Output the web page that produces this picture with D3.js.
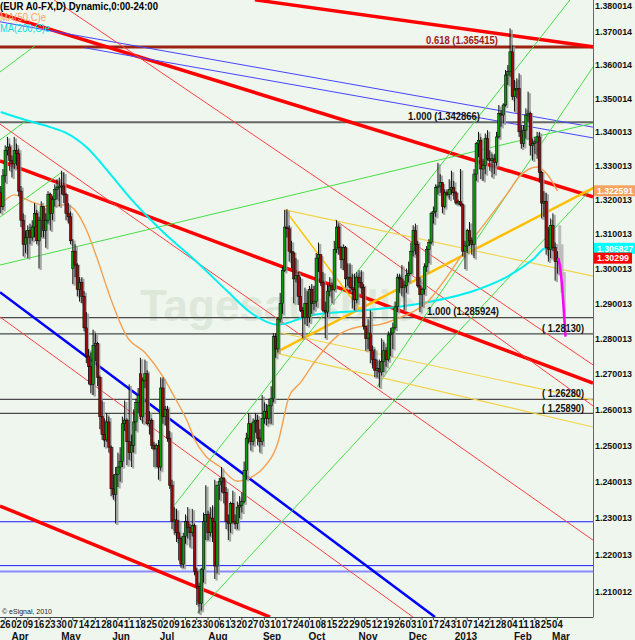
<!DOCTYPE html>
<html><head><meta charset="utf-8">
<script src="https://cdn.jsdelivr.net/npm/d3@7"></script>
<style>body{margin:0;background:#eff6ee;}svg{display:block;}</style>
</head><body>
<svg id="c" width="635" height="640"></svg>
<script>
// ---------- DATA (EUR A0-FX, daily) ----------
const firstIndex = -2; // trading-day index of first bar (Mar 22, 2012); index 0 = Mon Mar 26, 2012
const opens = [1.3220,1.3180,
1.3270,1.3345,1.3355,1.3315,1.3305, 1.3345,1.3335,1.3225,1.3140,1.3070, 1.3090,1.3110,1.3090,1.3120,1.3160, 1.3080,1.3140,1.3180,1.3110,1.3140,
1.3215,1.3160,1.3200,1.3230,1.3235, 1.3240,1.3240,1.3215,1.3160,1.3150, 1.3000,1.3050,1.3010,1.2940,1.2960, 1.2920,1.2830,1.2750,1.2720,1.2670,
1.2780,1.2785,1.2690,1.2580,1.2530, 1.2515,1.2565,1.2495,1.2380,1.2365, 1.2420,1.2440,1.2455,1.2560,1.2570, 1.2510,1.2480,1.2500,1.2565,1.2620,
1.2700,1.2580,1.2680,1.2700,1.2560, 1.2570,1.2500,1.2490,1.2500,1.2440, 1.2660,1.2580,1.2600,1.2520,1.2390, 1.2290,1.2295,1.2260,1.2245,1.2175,
1.2250,1.2290,1.2275,1.2260,1.2280, 1.2155,1.2115,1.2070,1.2160,1.2290, 1.2310,1.2260,1.2300,1.2290,1.2170, 1.2390,1.2400,1.2410,1.2370,1.2290,
1.2285,1.2340,1.2290,1.2285,1.2330, 1.2335,1.2345,1.2430,1.2520,1.2560, 1.2510,1.2565,1.2570,1.2520,1.2510, 1.2575,1.2595,1.2575,1.2610,1.2630,
1.2805,1.2770,1.2855,1.2900,1.2995, 1.3120,1.3115,1.3050,1.3045,1.2970, 1.2980,1.2920,1.2880,1.2860,1.2900, 1.2860,1.2940,1.2900,1.2905,1.3030,
1.3040,1.2960,1.2880,1.2875,1.2935, 1.2950,1.2940,1.3055,1.3120,1.3060, 1.3025,1.3060,1.2970,1.2975,1.2945, 1.2940,1.2910,1.2975,1.2960,1.2945,
1.2835,1.2800,1.2815,1.2765,1.2740, 1.2710,1.2715,1.2705,1.2735,1.2765, 1.2740,1.2810,1.2815,1.2830,1.2890, 1.2975,1.2970,1.2945,1.2950,1.2980,
1.2985,1.3050,1.3110,1.3070,1.2950, 1.2925,1.2940,1.3005,1.3055,1.3075, 1.3160,1.3165,1.3235,1.3240,1.3250, 1.3180,1.3220,1.3215,1.3230,1.3235,
1.3220,1.3190,1.3195,1.3185,1.3050, 1.3065,1.3110,1.3080,1.3070,1.3275, 1.3365,1.3375,1.3290,1.3300,1.3380, 1.3320,1.3315,1.3320,1.3310,1.3385,
1.3455,1.3450,1.3480,1.3570,1.3580, 1.3640,1.3505,1.3525,1.3530,1.3400, 1.3365,1.3405,1.3450,1.3455,1.3360, 1.3365,1.3370,1.3385,1.3280,1.3190,
1.3195,1.3060,1.3055,1.3125,1.3060, 1.3020];
const highs = [1.3240,1.3290,
1.3360,1.3385,1.3365,1.3330,1.3385, 1.3365,1.3350,1.3240,1.3160,1.3110, 1.3125,1.3130,1.3140,1.3190,1.3170, 1.3150,1.3195,1.3180,1.3160,1.3225,
1.3220,1.3210,1.3245,1.3260,1.3265, 1.3285,1.3280,1.3220,1.3190,1.3165, 1.3085,1.3070,1.3015,1.2975,1.2975, 1.2935,1.2875,1.2770,1.2760,1.2825,
1.2815,1.2790,1.2695,1.2625,1.2575, 1.2590,1.2580,1.2500,1.2420,1.2440, 1.2480,1.2495,1.2580,1.2625,1.2575, 1.2670,1.2530,1.2600,1.2630,1.2660,
1.2745,1.2690,1.2740,1.2710,1.2595, 1.2575,1.2510,1.2505,1.2515,1.2690, 1.2690,1.2610,1.2610,1.2540,1.2405, 1.2330,1.2325,1.2295,1.2250,1.2260,
1.2310,1.2330,1.2285,1.2325,1.2285, 1.2165,1.2125,1.2165,1.2315,1.2390, 1.2320,1.2330,1.2335,1.2405,1.2390, 1.2410,1.2440,1.2410,1.2385,1.2310,
1.2345,1.2375,1.2310,1.2345,1.2360, 1.2370,1.2455,1.2535,1.2590,1.2560, 1.2575,1.2590,1.2585,1.2545,1.2640, 1.2620,1.2615,1.2630,1.2665,1.2815,
1.2815,1.2860,1.2930,1.3005,1.3170, 1.3172,1.3125,1.3080,1.3050,1.3030, 1.2990,1.2975,1.2890,1.2945,1.2935, 1.2950,1.2955,1.2950,1.3045,1.3075,
1.3040,1.2990,1.2905,1.2955,1.2975, 1.2960,1.3080,1.3140,1.3130,1.3065, 1.3070,1.3065,1.3015,1.3015,1.2985, 1.2985,1.2990,1.2995,1.2995,1.2955,
1.2835,1.2855,1.2880,1.2780,1.2770, 1.2740,1.2740,1.2800,1.2790,1.2775, 1.2820,1.2830,1.2845,1.2905,1.2985, 1.2985,1.3010,1.2965,1.3000,1.3020,
1.3075,1.3125,1.3130,1.3080,1.2975, 1.2945,1.3015,1.3065,1.3085,1.3165, 1.3180,1.3245,1.3308,1.3275,1.3250, 1.3230,1.3230,1.3260,1.3285,1.3255,
1.3225,1.3200,1.3290,1.3190,1.3080, 1.3115,1.3135,1.3090,1.3290,1.3370, 1.3400,1.3385,1.3320,1.3395,1.3405, 1.3345,1.3335,1.3335,1.3400,1.3480,
1.3465,1.3485,1.3585,1.3600,1.3711, 1.3660,1.3555,1.3560,1.3575,1.3420, 1.3420,1.3470,1.3520,1.3460,1.3380, 1.3385,1.3400,1.3400,1.3285,1.3225,
1.3220,1.3120,1.3145,1.3160,1.3075, 1.3050];
const lows = [1.3160,1.3170,
1.3250,1.3330,1.3285,1.3265,1.3290, 1.3300,1.3210,1.3120,1.3035,1.3045, 1.3030,1.3070,1.3080,1.3090,1.3070, 1.3000,1.3090,1.3090,1.3060,1.3130,
1.3110,1.3140,1.3180,1.3200,1.3180, 1.3215,1.3190,1.3140,1.3130,1.3070, 1.2955,1.2975,1.2920,1.2905,1.2900, 1.2820,1.2730,1.2670,1.2645,1.2640,
1.2735,1.2665,1.2545,1.2515,1.2495, 1.2510,1.2480,1.2360,1.2350,1.2285, 1.2385,1.2400,1.2440,1.2540,1.2445, 1.2460,1.2440,1.2480,1.2540,1.2590,
1.2570,1.2560,1.2660,1.2555,1.2530, 1.2490,1.2440,1.2440,1.2405,1.2430, 1.2560,1.2555,1.2510,1.2380,1.2270, 1.2255,1.2235,1.2185,1.2165,1.2165,
1.2230,1.2245,1.2220,1.2250,1.2145, 1.2065,1.2042,1.2050,1.2125,1.2240, 1.2240,1.2250,1.2235,1.2135,1.2150, 1.2350,1.2370,1.2340,1.2270,1.2240,
1.2260,1.2285,1.2270,1.2270,1.2300, 1.2315,1.2340,1.2405,1.2505,1.2485, 1.2500,1.2535,1.2500,1.2480,1.2500, 1.2560,1.2555,1.2560,1.2560,1.2620,
1.2745,1.2760,1.2845,1.2870,1.2990, 1.3090,1.3020,1.3000,1.2900,1.2960, 1.2895,1.2875,1.2800,1.2840,1.2835, 1.2845,1.2870,1.2880,1.2890,1.2990,
1.2950,1.2875,1.2800,1.2860,1.2920, 1.2900,1.2935,1.3045,1.3040,1.3000, 1.2995,1.2945,1.2950,1.2935,1.2885, 1.2880,1.2900,1.2945,1.2925,1.2825,
1.2765,1.2770,1.2730,1.2715,1.2690, 1.2690,1.2661,1.2695,1.2705,1.2720, 1.2735,1.2750,1.2770,1.2825,1.2875, 1.2930,1.2920,1.2880,1.2930,1.2960,
1.2985,1.3035,1.3040,1.2945,1.2875, 1.2890,1.2925,1.2990,1.3015,1.3070, 1.3130,1.3150,1.3215,1.3220,1.3160, 1.3175,1.3210,1.3200,1.3215,1.3200,
1.3185,1.3185,1.3180,1.3035,1.2998, 1.3045,1.3065,1.3040,1.3030,1.3255, 1.3325,1.3260,1.3255,1.3275,1.3315, 1.3285,1.3265,1.3275,1.3300,1.3380,
1.3415,1.3425,1.3475,1.3540,1.3565, 1.3495,1.3460,1.3500,1.3385,1.3350, 1.3355,1.3380,1.3430,1.3330,1.3315, 1.3335,1.3320,1.3250,1.3145,1.3150,
1.3040,1.3020,1.3030,1.3050,1.2965, 1.2985];
const closes = [1.3180,1.3270,
1.3345,1.3355,1.3315,1.3305,1.3345, 1.3335,1.3225,1.3140,1.3070,1.3090, 1.3110,1.3090,1.3120,1.3160,1.3080, 1.3140,1.3180,1.3110,1.3140,1.3215,
1.3160,1.3200,1.3230,1.3235,1.3240, 1.3240,1.3215,1.3160,1.3150,1.3080, 1.3050,1.3010,1.2940,1.2960,1.2920, 1.2830,1.2750,1.2720,1.2670,1.2780,
1.2785,1.2690,1.2580,1.2530,1.2515, 1.2565,1.2495,1.2380,1.2365,1.2420, 1.2440,1.2455,1.2560,1.2570,1.2510, 1.2480,1.2500,1.2565,1.2620,1.2640,
1.2580,1.2680,1.2700,1.2560,1.2570, 1.2500,1.2490,1.2500,1.2440,1.2660, 1.2580,1.2600,1.2520,1.2390,1.2290, 1.2295,1.2260,1.2245,1.2175,1.2250,
1.2290,1.2275,1.2260,1.2280,1.2155, 1.2115,1.2070,1.2160,1.2290,1.2310, 1.2260,1.2300,1.2290,1.2170,1.2390, 1.2400,1.2410,1.2370,1.2290,1.2285,
1.2340,1.2290,1.2285,1.2330,1.2335, 1.2345,1.2430,1.2520,1.2560,1.2510, 1.2565,1.2570,1.2520,1.2510,1.2575, 1.2595,1.2575,1.2610,1.2630,1.2805,
1.2770,1.2855,1.2900,1.2995,1.3120, 1.3115,1.3050,1.3045,1.2970,1.2980, 1.2920,1.2880,1.2860,1.2900,1.2860, 1.2940,1.2900,1.2905,1.3030,1.3040,
1.2960,1.2880,1.2875,1.2935,1.2950, 1.2940,1.3055,1.3120,1.3060,1.3025, 1.3060,1.2970,1.2975,1.2945,1.2940, 1.2910,1.2975,1.2960,1.2945,1.2835,
1.2800,1.2815,1.2765,1.2740,1.2710, 1.2715,1.2705,1.2735,1.2765,1.2740, 1.2810,1.2815,1.2830,1.2890,1.2975, 1.2970,1.2945,1.2950,1.2980,1.2985,
1.3050,1.3110,1.3070,1.2950,1.2925, 1.2940,1.3005,1.3055,1.3075,1.3160, 1.3165,1.3235,1.3240,1.3250,1.3180, 1.3220,1.3215,1.3230,1.3235,1.3220,
1.3190,1.3195,1.3185,1.3050,1.3065, 1.3110,1.3080,1.3070,1.3275,1.3365, 1.3375,1.3290,1.3300,1.3380,1.3320, 1.3315,1.3320,1.3310,1.3385,1.3455,
1.3450,1.3480,1.3570,1.3580,1.3640, 1.3505,1.3525,1.3530,1.3400,1.3365, 1.3405,1.3450,1.3455,1.3360,1.3365, 1.3370,1.3385,1.3280,1.3190,1.3195,
1.3060,1.3055,1.3125,1.3060,1.3020, 1.3030];

// moving averages, sampled along the curves (trading-day index, price)
const ma50Index  = [-2,4,12,20,27,32,36,41,45,47,54,62,70,75,81,84,89,95,103,110,114,121,126,131,138,148,157,166,175,181,187,196,205,214,223,228,236,240,245];
const ma50Values = [1.3185,1.3214,1.3193,1.3179,1.3185,1.3161,1.3112,1.3025,1.2947,1.2910,1.2805,1.2760,1.2692,1.2636,1.2564,1.2517,1.2470,1.2442,1.2401,1.2415,1.2434,1.2508,1.2636,1.2675,1.2740,1.2810,1.2833,1.2839,1.2859,1.2876,1.2902,1.2976,1.3062,1.3141,1.3220,1.3267,1.3296,1.3278,1.322591];
const ma200Index  = [-2,9,20,27,36,47,55,69,86,99,109,121,135,157,181,209,220,234,240,245];
const ma200Values = [1.3459,1.3435,1.3414,1.3397,1.3355,1.3272,1.3208,1.3112,1.3013,1.2932,1.2873,1.2839,1.2865,1.2879,1.2896,1.2938,1.2967,1.3025,1.3059,1.305827];

// dynamic projection after the last bar
const forecastIndex = [246,247,248];
const forecastHigh  = [1.3125,1.3070,1.2990];
const forecastLow   = [1.3010,1.2930,1.2860];
const projIndex  = [245.4,246.2,247.0,247.8,248.6];
const projValues = [1.3030,1.3005,1.2955,1.2885,1.2805];

// trend lines: [kind, index1, price1, index2, price2]
const trendLines = [
  ['thickRed', 110.8,1.3798, 260.8,1.3655],
  ['thickRed', -2.31,1.3755, 260.8,1.3208],
  ['thickRed', -2.31,1.3314, 260.8,1.2674],
  ['thickRed', -2.31,1.2333, 117.5,1.2033],
  ['thickBlue',-2.31,1.2932, 190.7,1.2033],
  ['thinBlue', -2.31,1.3731, 260.8,1.3414],
  ['thinBlue', 35.4,1.3652, 260.8,1.3382],
  ['thinRed', 21.65,1.3798, 260.8,1.2725],
  ['thinRed', -2.31,1.3423, 260.8,1.2240],
  ['thinRed', -2.31,1.2861, 180.9,1.2033],
  ['thinRed', 146.3,1.3141, 260.8,1.2610],
  ['green', 85.1,1.2044, 260.8,1.3237],
  ['green', 74.4,1.2330, 250.6,1.3798],
  ['green', 165.0,1.2663, 260.8,1.3594],
  ['green', -2.31,1.3010, 260.8,1.3426],
  ['green', -2.31,1.3579, 13.2,1.3658],
  ['green', -2.31,1.3376, 9.7,1.3435],
  ['green', -2.31,1.3149, 25.2,1.3281],
  ['yellow', 124.1,1.3170, 260.8,1.2978],
  ['goldThin', 124.1,1.3170, 158.3,1.2875],
  ['gold', 119.7,1.2759, 260.8,1.3234],
  ['yellow', 120.6,1.2818, 260.8,1.2626],
  ['yellow', 119.7,1.2759, 260.8,1.2551]
];

// horizontal levels
const levelValues = [1.365415,1.342866,1.285924,1.28130,1.26280,1.25890,1.2290,1.2171,1.2155];
const levelKinds  = ['fib','grey2','grey','grey','grey','grey','blue','blue','blueLight'];
const levelTexts  = ['0.618 (1.365415)','1.000 (1.342866)','1.000 (1.285924)','( 1.28130)','( 1.26280)','( 1.25890)'];

// axes
const priceTickLabels = ['1.380014','1.370014','1.360014','1.350014','1.340013','1.330013','1.320013','1.310013','1.300013','1.290013','1.280013','1.270013','1.260013','1.250013','1.240013','1.230013','1.220013','1.210012'];
const dayTickLabels = ['26','02','09','16','23','30','07','14','21','28','04','11','18','25','02','09','16','23','30','06','13','20','27','03','10','17','24','01','08','15','22','29','05','12','19','26','03','10','17','24','31','07','14','21','28','04','11','18','25','04'];
const monthLabels = ['Apr','May','Jun','Jul','Aug','Sep','Oct','Nov','Dec','2013','Feb','Mar'];
const monthPos    = [6.6,29.2,51.4,71.8,94.4,118.4,138.3,161.0,183.1,204.4,229.7,246.6];
const lastValues  = [1.322591,1.305827,1.30299];
const lastKinds   = ['ma50','ma200','price'];

// ---------- DRAWING ----------
const W=635,H=640,PR=593,PB=617;
const FONT='"Liberation Sans", Arial, sans-serif';
const svg=d3.select('#c');
svg.append('rect').attr('width',W).attr('height',H).attr('fill','#eff6ee');
const x=d3.scaleLinear().domain([0,245]).range([5.2,557.4]);
const y=d3.scaleLog().domain([1.21,1.37]).range([592,32]);

svg.append('defs').append('clipPath').attr('id','plot').append('rect').attr('width',PR).attr('height',PB);
const g=svg.append('g').attr('clip-path','url(#plot)');

// watermark
g.append('text').attr('x',140).attr('y',321).text('Tagesausblick')
  .attr('font-family',FONT).attr('font-weight','bold').attr('font-size',44).attr('fill','#dde7da');

// levels
const levelStyle={fib:['#9b2212',3],grey2:['#666',2],grey:['#4a4a4a',1.4],blue:['#1a1aff',1],blueLight:['#8a8aff',2]};
levelValues.forEach((v,k)=>{
  const s=levelStyle[levelKinds[k]];
  g.append('line').attr('x1',0).attr('x2',PR).attr('y1',y(v)).attr('y2',y(v))
   .attr('stroke',s[0]).attr('stroke-width',s[1]);
});

// trend lines
const tStyle={thickRed:['#ff0000',3.5],thinRed:['#ff4040',1],thickBlue:['#0000ff',2.5],thinBlue:['#4646ff',1],
  green:['#44e044',1],gold:['#ffbf00',2.5],goldThin:['#ffc400',1.5],yellow:['#f2d44a',1.1]};
trendLines.forEach(t=>{
  const s=tStyle[t[0]];
  g.append('line').attr('x1',x(t[1])).attr('y1',y(t[2])).attr('x2',x(t[3])).attr('y2',y(t[4]))
   .attr('stroke',s[0]).attr('stroke-width',s[1]);
});

// moving averages
const ln=d3.line().x(d=>x(d[0])).y(d=>y(d[1])).curve(d3.curveMonotoneX);
g.append('path').attr('d',ln(ma200Index.map((i,k)=>[i,ma200Values[k]])))
 .attr('fill','none').attr('stroke','#00f0f0').attr('stroke-width',2);
g.append('path').attr('d',ln(ma50Index.map((i,k)=>[i,ma50Values[k]])))
 .attr('fill','none').attr('stroke','#f5a050').attr('stroke-width',1.4);

// candles
const bars=opens.map((o,k)=>({i:k+firstIndex,o,h:highs[k],l:lows[k],c:closes[k]}));
g.selectAll('.sh').data(bars).enter().append('rect')
 .attr('x',d=>x(d.i)+0.6).attr('width',2.2)
 .attr('y',d=>y(d.h)+1.5).attr('height',d=>y(d.l)-y(d.h))
 .attr('fill','#9a9a9a').attr('opacity',0.85);
forecastIndex.forEach((i,k)=>{
  g.append('rect').attr('x',x(i)-1.4).attr('width',3).attr('y',y(forecastHigh[k]))
   .attr('height',y(forecastLow[k])-y(forecastHigh[k])).attr('fill','#bdbdbd');
});
g.selectAll('.wk').data(bars).enter().append('line')
 .attr('x1',d=>x(d.i)).attr('x2',d=>x(d.i)).attr('y1',d=>y(d.h)).attr('y2',d=>y(d.l))
 .attr('stroke','#111').attr('stroke-width',1);
g.selectAll('.bd').data(bars).enter().append('rect')
 .attr('x',d=>x(d.i)-1.2).attr('width',2.4)
 .attr('y',d=>y(Math.max(d.o,d.c))).attr('height',d=>Math.max(1,Math.abs(y(d.o)-y(d.c))))
 .attr('fill',d=>d.c>=d.o?'#0a9a0a':'#9a0a0a').attr('stroke','#000').attr('stroke-width',0.5);

// projection
g.append('path').attr('d',d3.line().x(d=>x(d[0])).y(d=>y(d[1]))(projIndex.map((i,k)=>[i,projValues[k]])))
 .attr('fill','none').attr('stroke','#ff00ff').attr('stroke-width',2.5);

// level labels
const lblPos=[[426,-3,72,'#9b2212'],[408,-2,72,'#111'],[427,-3,72,'#111'],[542,-2,42,'#111'],[542,-2,42,'#111'],[542,-1,42,'#111']];
levelTexts.forEach((t,k)=>{
  const p=lblPos[k];
  svg.append('text').attr('x',p[0]).attr('y',y(levelValues[k])+p[1]).text(t)
   .attr('font-family',FONT).attr('font-weight','bold').attr('font-size',10)
   .attr('textLength',p[2]).attr('lengthAdjust','spacingAndGlyphs').attr('fill',p[3]);
});

// frame
svg.append('line').attr('x1',0).attr('x2',PR).attr('y1',PB+0.5).attr('y2',PB+0.5).attr('stroke','#444');
svg.append('line').attr('x1',PR+0.5).attr('x2',PR+0.5).attr('y1',0).attr('y2',PB+0.5).attr('stroke','#666');

// y axis labels
priceTickLabels.forEach(t=>{
  const v=parseFloat(t);
  svg.append('text').attr('x',595).attr('y',Math.max(y(v)+3.4,9)).text(t)
   .attr('font-family',FONT).attr('font-weight','bold').attr('font-size',9.2)
   .attr('textLength',37).attr('lengthAdjust','spacingAndGlyphs').attr('fill','#111');
});
const boxStyle={ma50:['#f4a460',41,'1.322591',36],ma200:['#00ffff',41,'1.305827',36],price:['#ff0000',38,'1.30299',32]};
lastValues.forEach((v,k)=>{
  const s=boxStyle[lastKinds[k]];
  svg.append('rect').attr('x',594).attr('y',y(v)-5.5).attr('width',s[1]).attr('height',11).attr('fill',s[0]);
  svg.append('text').attr('x',597).attr('y',y(v)+3.3).text(s[2])
   .attr('font-family',FONT).attr('font-weight','bold').attr('font-size',9.2)
   .attr('textLength',s[3]).attr('lengthAdjust','spacingAndGlyphs').attr('fill','#fff');
});

// x axis
dayTickLabels.forEach((t,k)=>{
  const xi=x(k*5);
  svg.append('line').attr('x1',xi).attr('x2',xi).attr('y1',PB).attr('y2',PB+3).attr('stroke','#444');
  svg.append('text').attr('x',xi).attr('y',628).attr('text-anchor','middle').text(t)
   .attr('font-family',FONT).attr('font-weight','bold').attr('font-size',10)
   .attr('textLength',10.6).attr('lengthAdjust','spacingAndGlyphs').attr('fill','#111');
});
monthLabels.forEach((t,k)=>{
  svg.append('text').attr('x',x(monthPos[k])).attr('y',639.5).attr('text-anchor','middle').text(t)
   .attr('font-family',FONT).attr('font-weight','bold').attr('font-size',10).attr('fill','#111');
});

// legend
svg.append('text').attr('x',0).attr('y',10).text('(EUR A0-FX,D) Dynamic,0:00-24:00')
 .attr('font-family',FONT).attr('font-weight','bold').attr('font-size',11)
 .attr('textLength',158).attr('lengthAdjust','spacingAndGlyphs').attr('fill','#000');
svg.append('text').attr('x',0).attr('y',21).text('MA(50,C)e').attr('font-family',FONT).attr('font-size',10)
 .attr('textLength',46).attr('lengthAdjust','spacingAndGlyphs').attr('fill','#f4a460');
svg.append('text').attr('x',0).attr('y',32).text('MA(200,C)e').attr('font-family',FONT).attr('font-size',10)
 .attr('textLength',50).attr('lengthAdjust','spacingAndGlyphs').attr('fill','#00e0e0');
svg.append('text').attr('x',2).attr('y',614).text('© eSignal, 2010').attr('font-family',FONT).attr('font-size',7).attr('fill','#222');
</script>
</body></html>
